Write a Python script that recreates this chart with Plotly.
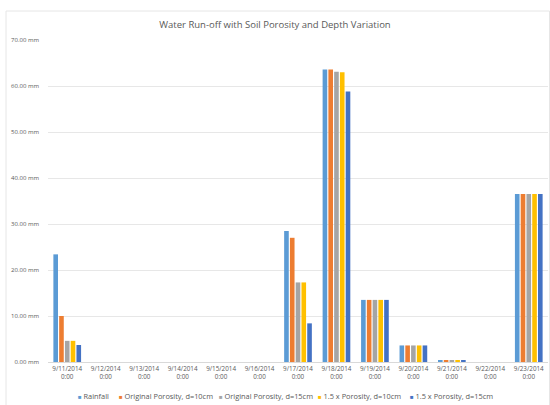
import plotly.graph_objects as go

dates = ["9/11/2014", "9/12/2014", "9/13/2014", "9/14/2014", "9/15/2014",
         "9/16/2014", "9/17/2014", "9/18/2014", "9/19/2014", "9/20/2014",
         "9/21/2014", "9/22/2014", "9/23/2014"]
tick_labels = [d + "<br>0:00" for d in dates]

rainfall = [23.4, 0, 0, 0, 0, 0, 28.5, 63.6, 13.5, 3.6, 0.3, 0, 36.5]
orig_d10 = [10.0, 0, 0, 0, 0, 0, 27.0, 63.6, 13.5, 3.6, 0.3, 0, 36.5]
orig_d15 = [4.6, 0, 0, 0, 0, 0, 17.3, 63.1, 13.5, 3.6, 0.3, 0, 36.5]
p15_d10 = [4.6, 0, 0, 0, 0, 0, 17.3, 63.0, 13.5, 3.6, 0.3, 0, 36.5]
p15_d15 = [3.7, 0, 0, 0, 0, 0, 8.4, 58.8, 13.5, 3.6, 0.3, 0, 36.5]

series = [
    ("Rainfall", rainfall, "#5B9BD5"),
    ("Original Porosity, d=10cm", orig_d10, "#ED7D31"),
    ("Original Porosity, d=15cm", orig_d15, "#A5A5A5"),
    ("1.5 x Porosity, d=10cm", p15_d10, "#FFC000"),
    ("1.5 x Porosity, d=15cm", p15_d15, "#4472C4"),
]

y_ticks = [0, 10, 20, 30, 40, 50, 60, 70]
y_tick_text = [f"{v:.2f} mm" for v in y_ticks]

fig = go.Figure()
for name, vals, color in series:
    fig.add_trace(go.Bar(x=dates, y=vals, name=name, marker_color=color,
                         marker_line_width=0, showlegend=False))

text_color = "#595959"
fig.update_layout(
    width=550, height=405,
    margin=dict(l=48, r=2, t=40, b=43),
    paper_bgcolor="white", plot_bgcolor="white",
    font=dict(family="Open Sans, Liberation Sans, sans-serif", size=6, color=text_color),
    title=dict(text="Water Run-off with Soil Porosity and Depth Variation",
               x=0.5, xanchor="center", y=0.94, yanchor="middle",
               font=dict(size=9.5, color=text_color)),
    barmode="group", bargap=0.25, bargroupgap=0.2,
    xaxis=dict(type="category", tickvals=dates, ticktext=tick_labels,
               showgrid=False, showline=True, linecolor="#D9D9D9",
               linewidth=1, ticks="", tickfont=dict(size=6.3, color=text_color),
               tickangle=0),
    yaxis=dict(range=[0, 70], tickvals=y_ticks, ticktext=y_tick_text,
               showgrid=True, gridcolor="#E7E7E7", gridwidth=1, zeroline=False,
               showline=False, ticks="", ticklabelstandoff=8,
               tickfont=dict(size=6, color=text_color)),
)

# legend row below the axis: small coloured square followed by the series name
legend_left_px = [76, 117, 217, 316, 408]
plot_left, plot_width = 48, 500
for (name, _, color), px in zip(series, legend_left_px):
    fig.add_annotation(
        xref="paper", yref="paper", x=(px - plot_left) / plot_width, y=-0.105,
        xanchor="left", yanchor="middle", showarrow=False,
        text=f"<span style='color:{color};font-size:6px'>■</span> {name}",
        font=dict(size=7.4, color=text_color))

# chart-area border
fig.add_shape(type="rect", xref="paper", yref="paper",
              x0=-0.084, x1=1.003, y0=-0.14, y1=1.09,
              line=dict(color="#E6E6E6", width=1), fillcolor="rgba(0,0,0,0)",
              layer="below")

fig.write_html("out.html")
